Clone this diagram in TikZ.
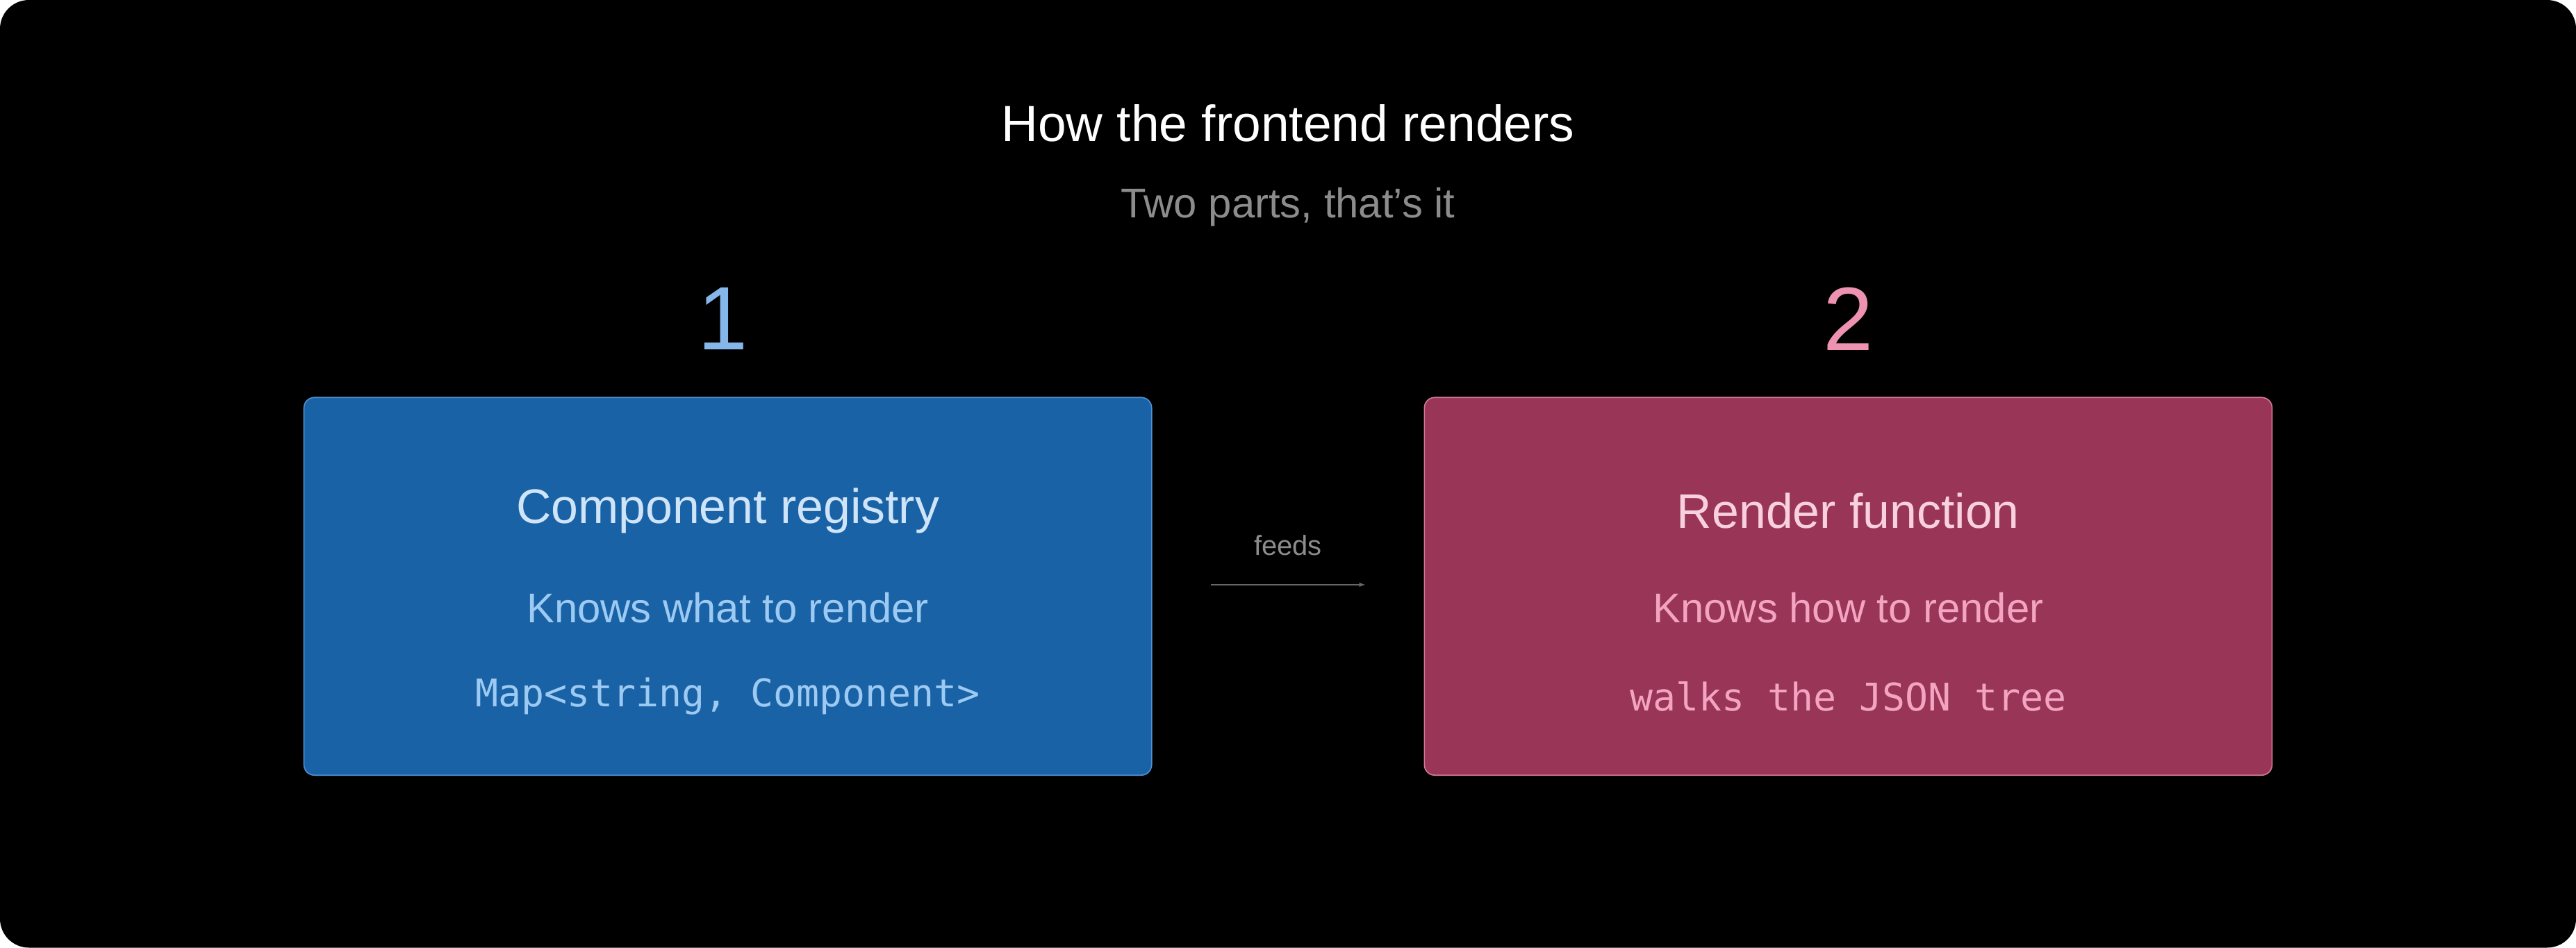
\documentclass[tikz,border=0pt]{standalone}
\usepackage{fontspec}
\setmainfont{Liberation Sans}
\setmonofont{DejaVu Sans Mono}
\usetikzlibrary{calc}
\definecolor{regfill}{HTML}{1A62A6}
\definecolor{regline}{HTML}{4F8FD2}
\definecolor{regtext}{HTML}{CFE4F8}
\definecolor{regsub}{HTML}{9CCAF2}
\definecolor{rendfill}{HTML}{993556}
\definecolor{rendline}{HTML}{D2789A}
\definecolor{rendtext}{HTML}{F8D0DE}
\definecolor{rendsub}{HTML}{F2A4C0}
\definecolor{onecol}{HTML}{85B7EB}
\definecolor{twocol}{HTML}{ED93B1}
\tikzset{
  part/.style={rounded corners=9pt, minimum width=25.8cm, minimum height=11.5cm, line width=1pt},
  parttitle/.style={font=\fontsize{42}{48}\selectfont},
  partsub/.style={font=\fontsize{36}{42}\selectfont},
  partcode/.style={font=\ttfamily\fontsize{33}{40}\selectfont}
}
\begin{document}
\begin{tikzpicture}[x=0.05cm, y=-0.05cm, >=latex]
		%background
		\fill[white] (0,0) rectangle (1568,577);
		\fill[black, rounded corners=25pt] (0,0) rectangle (1568,577);
		\useasboundingbox (0,0) rectangle (1568,577);

		%heading
		\node [text=white, font=\fontsize{44}{50}\selectfont] at (784,75) (title) {How the frontend renders};
		\node [text=black!45!white, font=\fontsize{36}{42}\selectfont] at (784,126) (subtitle) {Two parts, that's it};

		%elements
		\node [part, fill=regfill, draw=regline] at (443,357) (registry) {};
		\node [part, fill=rendfill, draw=rendline] at (1125,357) (render) {};

		\node [text=onecol, font=\fontsize{78}{86}\selectfont] at (440,194) (one) {1};
		\node [text=twocol, font=\fontsize{78}{86}\selectfont] at (1125,194) (two) {2};

		\node [parttitle, text=regtext] at (443,311) (regname) {Component registry};
		\node [partsub, text=regsub] at (443,370) (regwhat) {Knows what to render};
		\node [partcode, text=regsub] at (443,424) (regcode) {Map<string, Component>};

		\node [parttitle, text=rendtext] at (1125,311) (rendname) {Render function};
		\node [partsub, text=rendsub] at (1125,370) (rendhow) {Knows how to render};
		\node [partcode, text=rendsub] at (1125,424) (rendcode) {walks the JSON tree};

		%connector
		\coordinate (feedstart) at (737,356);
		\coordinate (feedend) at (831,356);
		\draw [->, black!60!white, line width=0.8pt] (feedstart) -- (feedend) node [midway, above=0.75cm, text=black!45!white, font=\fontsize{24}{28}\selectfont] (feeds) {feeds};
\end{tikzpicture}
\end{document}
